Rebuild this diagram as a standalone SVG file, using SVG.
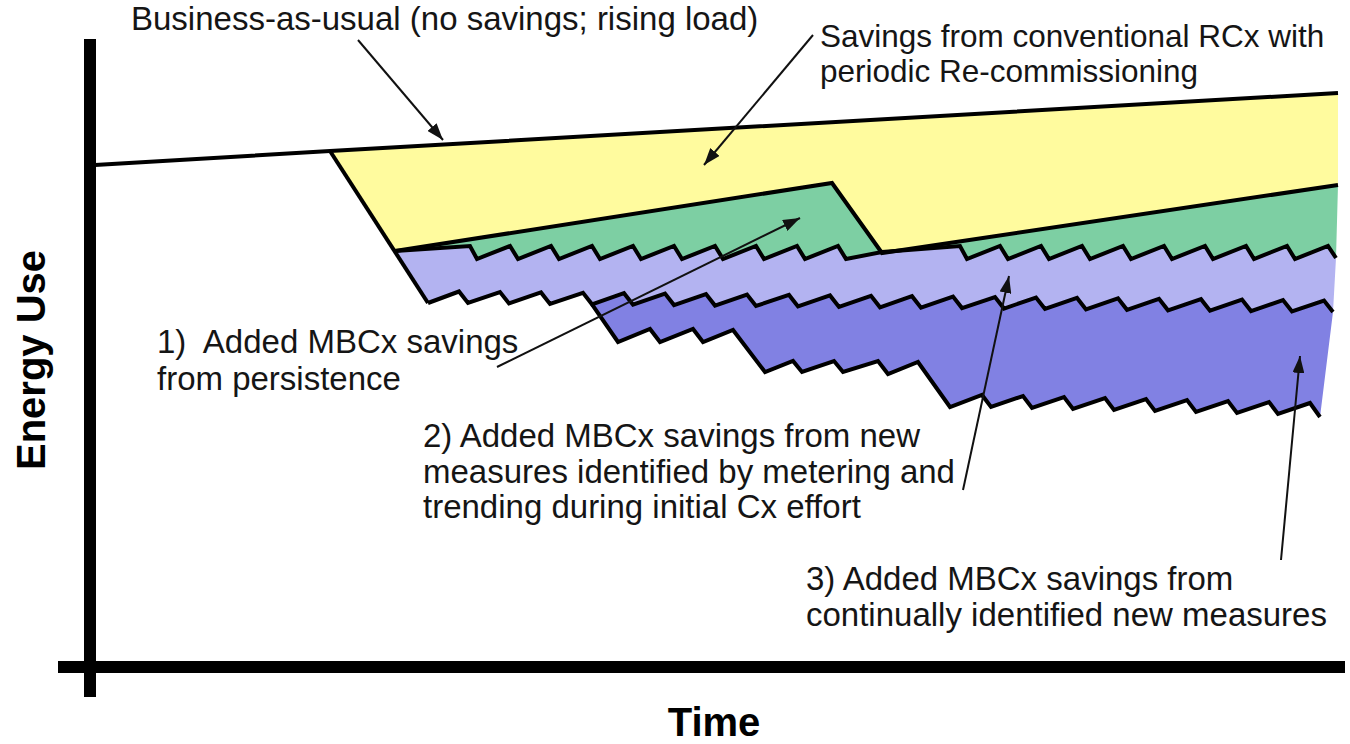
<svg xmlns="http://www.w3.org/2000/svg" width="1350" height="744" viewBox="0 0 1350 744">
  <defs>
    <marker id="ah" markerUnits="userSpaceOnUse" markerWidth="18" markerHeight="12" refX="17" refY="6" orient="auto">
      <path d="M0,0 L17,6 L0,12 Z" fill="#111"/>
    </marker>
  </defs>
  <style>
    .lbl { font-family: "Liberation Sans", Arial, sans-serif; font-size: 33px; fill: #151515; }
    .lbl-s { font-size: 31.5px; }
    .ax { font-family: "Liberation Sans", Arial, sans-serif; font-size: 40px; font-weight: bold; fill: #000; }
    .edge { fill: none; stroke: #000; stroke-width: 4; stroke-linejoin: miter; stroke-miterlimit: 10; }
    .axis { stroke: #000; stroke-width: 12; fill: none; }
    .conn { stroke: #111; stroke-width: 2; fill: none; marker-end: url(#ah); }
  </style>
  <rect width="1350" height="744" fill="#fff"/>

  <g id="regions">
    <polygon id="yellow" fill="#FFFB9E" points="330,151 1338,93 1338,185 882,253 832,183 395,251"/>
    <polygon id="green" fill="#7DCFA3" points="395,251 470,246 477,259 510,246 518,259 551,246 559,259 592,246 600,259 633,246 641,259 674,246 682,259 715,246 723,259 756,246 764,259 797,246 805,259 838,246 846,259 882,252 960,246 967,259 1000,246 1008,259 1041,246 1049,259 1082,246 1090,259 1123,246 1131,259 1164,246 1172,259 1205,246 1213,259 1246,246 1254,259 1287,246 1295,259 1328,246 1336,258 1338,185 882,253 832,183"/>
    <polygon id="lightpurple" fill="#B3B3F1" points="395,251 470,246 477,259 510,246 518,259 551,246 559,259 592,246 600,259 633,246 641,259 674,246 682,259 715,246 723,259 756,246 764,259 797,246 805,259 838,246 846,259 882,252 960,246 967,259 1000,246 1008,259 1041,246 1049,259 1082,246 1090,259 1123,246 1131,259 1164,246 1172,259 1205,246 1213,259 1246,246 1254,259 1287,246 1295,259 1328,246 1336,258 1333,312 1324,300.5 1292,311.5 1283,300 1251,311.1 1242,299.6 1210,310.7 1201,299.2 1168,310.3 1159,298.8 1127,309.8 1118,298.3 1086,309.4 1077,297.9 1045,309 1036,297.5 1004,308.6 995,297.1 962,308.1 953,296.6 921,307.7 912,296.2 880,307.3 871,295.8 839,306.9 830,295.4 798,306.4 789,294.9 756,306 747,294.5 715,305.6 706,294.1 674,305.1 665,293.6 633,304.7 624,293.2 592,304.3 583,292.8 550,304 541,292.4 509,303.4 500,292 468,303 459,291.5 428,303"/>
    <polygon id="darkpurple" fill="#8181E3" points="592,304.3 624,293.2 633,304.7 665,293.6 674,305.1 706,294.1 715,305.6 747,294.5 756,306 789,294.9 798,306.4 830,295.4 839,306.9 871,295.8 880,307.3 912,296.2 921,307.7 953,296.6 962,308.1 995,297.1 1004,308.6 1036,297.5 1045,309 1077,297.9 1086,309.4 1118,298.3 1127,309.8 1159,298.8 1168,310.3 1201,299.2 1210,310.7 1242,299.6 1251,311.1 1283,300 1292,311.5 1324,300.5 1333,312 1320,417 1310,403 1278,414 1269,402 1237,413 1228,401 1196,412 1187,400 1155,411 1146,399 1114,410 1105,398 1073,409 1064,397 1032,408 1023,396 991,407 982,395 950,407 918,362 888,374 878,361 843,372 834,361 802,372 793,361 765,372 733,330 703,342 693,329 660,342 650,329 618,342"/>
  </g>

  <g id="outlines">
    <polyline id="bau" class="edge" points="95,165 330,151 1338,93"/>
    <polyline id="drop-left" class="edge" points="330,151 428,303"/>
    <polyline id="rcx-bottom" class="edge" points="395,251 832,183 882,253 1338,185"/>
    <polyline id="saw1" class="edge" points="395,251 470,246 477,259 510,246 518,259 551,246 559,259 592,246 600,259 633,246 641,259 674,246 682,259 715,246 723,259 756,246 764,259 797,246 805,259 838,246 846,259 882,252 960,246 967,259 1000,246 1008,259 1041,246 1049,259 1082,246 1090,259 1123,246 1131,259 1164,246 1172,259 1205,246 1213,259 1246,246 1254,259 1287,246 1295,259 1328,246 1336,258"/>
    <polyline id="saw2" class="edge" points="428,303 459,291.5 468,303 500,292 509,303.4 541,292.4 550,304 583,292.8 592,304.3 624,293.2 633,304.7 665,293.6 674,305.1 706,294.1 715,305.6 747,294.5 756,306 789,294.9 798,306.4 830,295.4 839,306.9 871,295.8 880,307.3 912,296.2 921,307.7 953,296.6 962,308.1 995,297.1 1004,308.6 1036,297.5 1045,309 1077,297.9 1086,309.4 1118,298.3 1127,309.8 1159,298.8 1168,310.3 1201,299.2 1210,310.7 1242,299.6 1251,311.1 1283,300 1292,311.5 1324,300.5 1333,312"/>
    <polyline id="saw3" class="edge" points="592,304.3 618,342 650,329 660,342 693,329 703,342 733,330 765,372 793,361 802,372 834,361 843,372 878,361 888,374 918,362 950,407 982,395 991,407 1023,396 1032,408 1064,397 1073,409 1105,398 1114,410 1146,399 1155,411 1187,400 1196,412 1228,401 1237,413 1269,402 1278,414 1310,403 1320,417"/>
  </g>

  <g id="axes">
    <line class="axis" x1="90" y1="39" x2="90" y2="697"/>
    <line class="axis" x1="58" y1="667" x2="1345" y2="667"/>
    <text id="y-title" class="ax" transform="translate(45,360) rotate(-90)" text-anchor="middle">Energy Use</text>
    <text id="x-title" class="ax" x="714" y="736" text-anchor="middle">Time</text>
  </g>

  <g id="connectors">
    <line class="conn" x1="358" y1="40" x2="443" y2="140"/>
    <line class="conn" x1="813" y1="35" x2="704" y2="165"/>
    <line class="conn" x1="497" y1="367" x2="800" y2="218"/>
    <line class="conn" x1="963" y1="490" x2="1009" y2="276"/>
    <line class="conn" x1="1281" y1="560" x2="1300" y2="356"/>
  </g>

  <g id="label-bau">
    <text class="lbl" x="131" y="30">Business-as-usual (no savings; rising load)</text>
  </g>
  <g id="label-rcx">
    <text class="lbl lbl-s" x="820" y="47">Savings from conventional RCx with</text>
    <text class="lbl lbl-s" x="820" y="82">periodic Re-commissioning</text>
  </g>
  <g id="label-1">
    <text class="lbl" x="157" y="353" xml:space="preserve">1)  Added MBCx savings</text>
    <text class="lbl" x="157" y="390">from persistence</text>
  </g>
  <g id="label-2">
    <text class="lbl" x="423" y="447">2) Added MBCx savings from new</text>
    <text class="lbl" x="423" y="483">measures identified by metering and</text>
    <text class="lbl" x="423" y="518">trending during initial Cx effort</text>
  </g>
  <g id="label-3">
    <text class="lbl" x="806" y="590">3) Added MBCx savings from</text>
    <text class="lbl" x="806" y="626">continually identified new measures</text>
  </g>
</svg>
